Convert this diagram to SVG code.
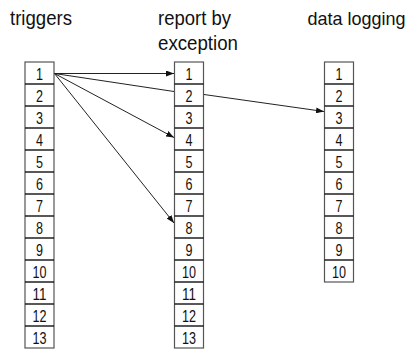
<svg xmlns="http://www.w3.org/2000/svg" width="411" height="349" viewBox="0 0 411 349">
<style>
.hdr{font-family:"Liberation Sans",Arial,sans-serif;font-size:20px;fill:#111}
.hdr2{font-size:18.5px}
.num{font-family:"Liberation Sans",Arial,sans-serif;font-size:16.5px;fill:#111;text-anchor:middle}
.box{fill:#fff;stroke:#555;stroke-width:1.2}
.sep{stroke:#111;stroke-width:1.4}
.con{stroke:#222;stroke-width:1;fill:none}
</style>
<defs>
<marker id="ah" viewBox="0 0 8 6" refX="8" refY="3" markerWidth="8" markerHeight="6" markerUnits="userSpaceOnUse" orient="auto">
<path d="M0,0 L8,3 L0,6 Z" fill="#111"/>
</marker>
</defs>
<rect width="411" height="349" fill="#fff"/>
<g id="headers">
<text class="hdr" x="10" y="25" textLength="62" lengthAdjust="spacingAndGlyphs">triggers</text>
<text class="hdr" x="158" y="25" textLength="73" lengthAdjust="spacingAndGlyphs">report by</text>
<text class="hdr" x="158" y="50" textLength="80" lengthAdjust="spacingAndGlyphs">exception</text>
<text class="hdr hdr2" x="307.5" y="25" textLength="98" lengthAdjust="spacingAndGlyphs">data logging</text>
</g>
<g id="triggers">
<rect class="box" x="25" y="62" width="29" height="286"/>
<line class="sep" x1="25" y1="84" x2="54" y2="84"/>
<line class="sep" x1="25" y1="106" x2="54" y2="106"/>
<line class="sep" x1="25" y1="128" x2="54" y2="128"/>
<line class="sep" x1="25" y1="150" x2="54" y2="150"/>
<line class="sep" x1="25" y1="172" x2="54" y2="172"/>
<line class="sep" x1="25" y1="194" x2="54" y2="194"/>
<line class="sep" x1="25" y1="216" x2="54" y2="216"/>
<line class="sep" x1="25" y1="238" x2="54" y2="238"/>
<line class="sep" x1="25" y1="260" x2="54" y2="260"/>
<line class="sep" x1="25" y1="282" x2="54" y2="282"/>
<line class="sep" x1="25" y1="304" x2="54" y2="304"/>
<line class="sep" x1="25" y1="326" x2="54" y2="326"/>
<text class="num" x="39.5" y="79.5" textLength="7" lengthAdjust="spacingAndGlyphs">1</text>
<text class="num" x="39.5" y="101.5" textLength="7" lengthAdjust="spacingAndGlyphs">2</text>
<text class="num" x="39.5" y="123.5" textLength="7" lengthAdjust="spacingAndGlyphs">3</text>
<text class="num" x="39.5" y="145.5" textLength="7" lengthAdjust="spacingAndGlyphs">4</text>
<text class="num" x="39.5" y="167.5" textLength="7" lengthAdjust="spacingAndGlyphs">5</text>
<text class="num" x="39.5" y="189.5" textLength="7" lengthAdjust="spacingAndGlyphs">6</text>
<text class="num" x="39.5" y="211.5" textLength="7" lengthAdjust="spacingAndGlyphs">7</text>
<text class="num" x="39.5" y="233.5" textLength="7" lengthAdjust="spacingAndGlyphs">8</text>
<text class="num" x="39.5" y="255.5" textLength="7" lengthAdjust="spacingAndGlyphs">9</text>
<text class="num" x="39.5" y="277.5" textLength="14" lengthAdjust="spacingAndGlyphs">10</text>
<text class="num" x="39.5" y="299.5" textLength="14" lengthAdjust="spacingAndGlyphs">11</text>
<text class="num" x="39.5" y="321.5" textLength="14" lengthAdjust="spacingAndGlyphs">12</text>
<text class="num" x="39.5" y="343.5" textLength="14" lengthAdjust="spacingAndGlyphs">13</text>
</g>
<g id="report-by-exception">
<rect class="box" x="174.5" y="62" width="29" height="286"/>
<line class="sep" x1="174.5" y1="84" x2="203.5" y2="84"/>
<line class="sep" x1="174.5" y1="106" x2="203.5" y2="106"/>
<line class="sep" x1="174.5" y1="128" x2="203.5" y2="128"/>
<line class="sep" x1="174.5" y1="150" x2="203.5" y2="150"/>
<line class="sep" x1="174.5" y1="172" x2="203.5" y2="172"/>
<line class="sep" x1="174.5" y1="194" x2="203.5" y2="194"/>
<line class="sep" x1="174.5" y1="216" x2="203.5" y2="216"/>
<line class="sep" x1="174.5" y1="238" x2="203.5" y2="238"/>
<line class="sep" x1="174.5" y1="260" x2="203.5" y2="260"/>
<line class="sep" x1="174.5" y1="282" x2="203.5" y2="282"/>
<line class="sep" x1="174.5" y1="304" x2="203.5" y2="304"/>
<line class="sep" x1="174.5" y1="326" x2="203.5" y2="326"/>
<text class="num" x="189" y="79.5" textLength="7" lengthAdjust="spacingAndGlyphs">1</text>
<text class="num" x="189" y="101.5" textLength="7" lengthAdjust="spacingAndGlyphs">2</text>
<text class="num" x="189" y="123.5" textLength="7" lengthAdjust="spacingAndGlyphs">3</text>
<text class="num" x="189" y="145.5" textLength="7" lengthAdjust="spacingAndGlyphs">4</text>
<text class="num" x="189" y="167.5" textLength="7" lengthAdjust="spacingAndGlyphs">5</text>
<text class="num" x="189" y="189.5" textLength="7" lengthAdjust="spacingAndGlyphs">6</text>
<text class="num" x="189" y="211.5" textLength="7" lengthAdjust="spacingAndGlyphs">7</text>
<text class="num" x="189" y="233.5" textLength="7" lengthAdjust="spacingAndGlyphs">8</text>
<text class="num" x="189" y="255.5" textLength="7" lengthAdjust="spacingAndGlyphs">9</text>
<text class="num" x="189" y="277.5" textLength="14" lengthAdjust="spacingAndGlyphs">10</text>
<text class="num" x="189" y="299.5" textLength="14" lengthAdjust="spacingAndGlyphs">11</text>
<text class="num" x="189" y="321.5" textLength="14" lengthAdjust="spacingAndGlyphs">12</text>
<text class="num" x="189" y="343.5" textLength="14" lengthAdjust="spacingAndGlyphs">13</text>
</g>
<g id="data-logging">
<rect class="box" x="324.5" y="62" width="29" height="220"/>
<line class="sep" x1="324.5" y1="84" x2="353.5" y2="84"/>
<line class="sep" x1="324.5" y1="106" x2="353.5" y2="106"/>
<line class="sep" x1="324.5" y1="128" x2="353.5" y2="128"/>
<line class="sep" x1="324.5" y1="150" x2="353.5" y2="150"/>
<line class="sep" x1="324.5" y1="172" x2="353.5" y2="172"/>
<line class="sep" x1="324.5" y1="194" x2="353.5" y2="194"/>
<line class="sep" x1="324.5" y1="216" x2="353.5" y2="216"/>
<line class="sep" x1="324.5" y1="238" x2="353.5" y2="238"/>
<line class="sep" x1="324.5" y1="260" x2="353.5" y2="260"/>
<text class="num" x="339" y="79.5" textLength="7" lengthAdjust="spacingAndGlyphs">1</text>
<text class="num" x="339" y="101.5" textLength="7" lengthAdjust="spacingAndGlyphs">2</text>
<text class="num" x="339" y="123.5" textLength="7" lengthAdjust="spacingAndGlyphs">3</text>
<text class="num" x="339" y="145.5" textLength="7" lengthAdjust="spacingAndGlyphs">4</text>
<text class="num" x="339" y="167.5" textLength="7" lengthAdjust="spacingAndGlyphs">5</text>
<text class="num" x="339" y="189.5" textLength="7" lengthAdjust="spacingAndGlyphs">6</text>
<text class="num" x="339" y="211.5" textLength="7" lengthAdjust="spacingAndGlyphs">7</text>
<text class="num" x="339" y="233.5" textLength="7" lengthAdjust="spacingAndGlyphs">8</text>
<text class="num" x="339" y="255.5" textLength="7" lengthAdjust="spacingAndGlyphs">9</text>
<text class="num" x="339" y="277.5" textLength="14" lengthAdjust="spacingAndGlyphs">10</text>
</g>
<g id="connectors">
<line class="con" x1="54.5" y1="73.5" x2="174" y2="73.5" marker-end="url(#ah)"/>
<line class="con" x1="54.5" y1="73.5" x2="174" y2="91.5"/>
<line class="con" x1="204" y1="94.5" x2="324" y2="111.5" marker-end="url(#ah)"/>
<line class="con" x1="54.5" y1="73.5" x2="174" y2="137.5" marker-end="url(#ah)"/>
<line class="con" x1="54.5" y1="73.5" x2="174" y2="223" marker-end="url(#ah)"/>
</g>
</svg>
